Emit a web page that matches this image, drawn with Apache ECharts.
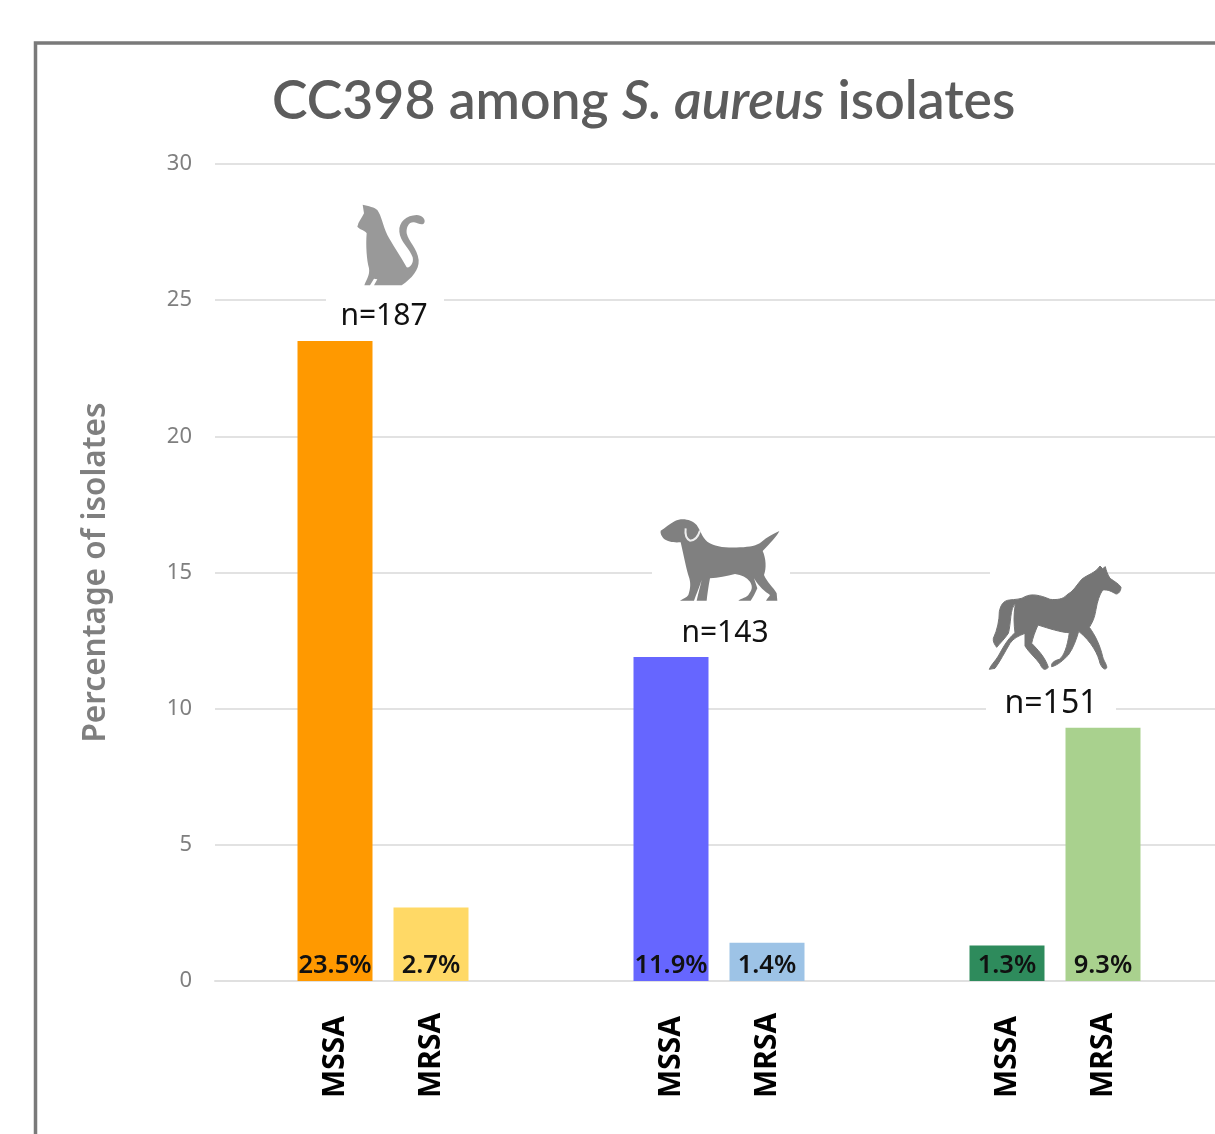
<!DOCTYPE html>
<html>
<head>
<meta charset="utf-8">
<title>CC398 among S. aureus isolates</title>
<script src="https://cdn.jsdelivr.net/npm/echarts@6/dist/echarts.min.js"></script>
<style>
  html, body { margin: 0; padding: 0; background: #fff; overflow: hidden; }
  #chart { width: 1215px; height: 1134px; }
</style>
</head>
<body>
<div id="chart"></div>
<script>
// blank slots are the gaps between the host groups
var categories = ['', '', 'MSSA', '', 'MRSA', '', '', '', '', 'MSSA', '', 'MRSA', '', '', '', '', 'MSSA', '', 'MRSA', '', '']
var percentValues = [null, null, 23.5, null, 2.7, null, null, null, null, 11.9, null, 1.4, null, null, null, null, 1.3, null, 9.3, null, null]
var barColors = [null, null, '#ff9900', null, '#ffd966', null, null, null, null, '#6666ff', null, '#9dc3e6', null, null, null, null, '#2e8b5c', null, '#a9d18e', null, null]
var hostCounts = ['n=187', 'n=143', 'n=151']

var FONT = '"Noto Sans", sans-serif'
var catPath = 'M188 74C205 78 225 82 232 90C245 108 248 135 262 165C275 190 300 225 320 262C330 265 342 250 338 232C330 205 300 185 298 155C296 125 320 106 350 105C365 105 378 118 373 128C368 138 355 130 342 127C328 125 318 140 320 160C325 185 352 205 356 240C358 270 335 295 305 316L222 316L232 298L222 296L210 316L193 316C200 298 210 285 207 265C200 240 197 195 200 160C195 150 180 150 172 140C175 125 185 115 192 100Z'
var dogPath = 'M122 92C135 85 150 70 165 63C185 52 215 58 230 75C242 92 245 110 262 125C285 140 320 145 360 142C390 140 410 138 425 125C440 112 460 102 478 93C470 110 450 130 428 153C438 175 440 205 432 225C440 245 460 262 470 280L472 302L438 302C442 295 448 290 450 285C435 275 418 262 402 235L412 265C405 280 398 295 392 302L355 302C365 295 380 292 385 285C395 270 400 262 390 245C380 232 365 225 345 222C320 228 295 233 270 235C265 260 262 285 260 302L230 302C235 280 240 262 245 240C238 262 228 285 222 302L180 302C190 295 200 293 205 285C212 265 212 250 208 235C198 205 192 170 182 127C165 128 145 128 130 115C125 108 120 100 122 92Z'
var collarPath = 'M197 85C195 100 197 115 210 122C225 122 235 108 240 92'
var horsePath = 'M483 112C482 125 475 132 468 132C455 125 445 118 428 120C418 135 412 155 408 178C405 195 402 210 388 232C405 255 420 285 428 320C432 335 442 345 440 354C435 360 428 358 420 340C415 315 395 275 356 244C350 265 340 295 325 315C310 330 295 345 275 350C272 340 282 332 298 328C312 318 322 290 328 248C305 248 265 235 234 225C225 245 218 265 215 280C232 298 255 320 265 352C255 362 248 360 240 342C228 325 205 305 195 288L195 250C175 258 160 265 150 280C135 305 120 335 105 355L88 358C92 345 105 335 115 318C128 295 140 270 165 248C162 225 160 195 166 163C150 170 153 225 145 250C135 265 120 280 110 292C105 285 98 275 100 265C112 240 118 210 118 185C122 165 130 152 148 150C165 148 185 148 195 140C215 130 240 135 270 148C290 150 310 148 320 135C340 125 350 105 365 88C385 72 405 70 420 48L428 56L436 50C438 60 442 72 450 85C465 95 480 105 483 112Z'

echarts.graphic.registerShape('catIcon', echarts.graphic.extendPath(catPath))
echarts.graphic.registerShape('dogIcon', echarts.graphic.extendPath(dogPath))
echarts.graphic.registerShape('collarIcon', echarts.graphic.extendPath(collarPath))
echarts.graphic.registerShape('horseIcon', echarts.graphic.extendPath(horsePath))

function icon(type, style, x, y, z) {
  return { type: type, x: x, y: y, scaleX: 1 / 3, scaleY: 1 / 3, z: z || 10, style: style }
}

function gap(x, y, w, h) {
  return { type: 'rect', z: 9, shape: { x: x, y: y, width: w, height: h }, style: { fill: '#fff' } }
}

function countText(text, x, y, size) {
  return {
    type: 'text', x: x, y: y, z: 11,
    style: { text: text, fill: '#111', font: size + 'px ' + FONT, align: 'center', verticalAlign: 'middle' }
  }
}

var myChart = echarts.init(document.getElementById('chart'), null, { renderer: 'canvas' })

var titleBase = { fontFamily: '"Lato", sans-serif', fontSize: 53.5, fontWeight: 600, color: '#5c5c5c' }

var option = {
  backgroundColor: '#fff',
  animation: false,
  title: {
    text: '{a|CC398 among }{b|S. aureus}{a| isolates}',
    left: 272,
    top: 75,
    padding: 0,
    textStyle: {
      rich: {
        a: titleBase,
        b: Object.assign({}, titleBase, { fontStyle: 'italic' })
      }
    }
  },
  // the axis carries on past the right edge, as the picture is cropped there
  grid: { left: 215, top: 164, width: 1008, height: 817, outerBoundsMode: 'none' },
  xAxis: {
    type: 'category',
    data: categories,
    axisTick: { show: false },
    axisLine: { lineStyle: { color: '#e0e0e0', width: 2 } },
    axisLabel: {
      interval: 0,
      rotate: 90,
      align: 'left',
      verticalAlign: 'middle',
      margin: 117,
      color: '#000',
      fontFamily: FONT,
      fontSize: 30,
      fontWeight: 700
    }
  },
  yAxis: {
    type: 'value',
    min: 0,
    max: 30,
    interval: 5,
    name: 'Percentage of isolates',
    nameLocation: 'middle',
    nameGap: 103,
    nameRotate: 90,
    nameTextStyle: { color: '#7f7f7f', fontFamily: FONT, fontSize: 31.5, fontWeight: 600 },
    axisLine: { show: false },
    axisTick: { show: false },
    axisLabel: { color: '#7f7f7f', fontFamily: FONT, fontSize: 22, margin: 23 },
    splitLine: { lineStyle: { color: '#e2e2e2', width: 2 } }
  },
  series: [
    {
      type: 'bar',
      barWidth: 75,
      data: percentValues.map(function (v, i) {
        return { value: v, itemStyle: { color: barColors[i] } }
      }),
      label: {
        show: true,
        position: 'insideBottom',
        distance: 2,
        color: '#111',
        fontFamily: FONT,
        fontSize: 25.5,
        fontWeight: 600,
        formatter: function (p) { return p.value == null ? '' : p.value + '%' }
      }
    }
  ],
  graphic: [
    // outer frame, runs off the right and bottom of the picture
    { type: 'rect', z: 8, shape: { x: 35.5, y: 43, width: 1400, height: 1300 }, style: { fill: 'none', stroke: '#7a7a7a', lineWidth: 3.5 } },
    gap(326, 292, 118, 14),
    gap(652, 565, 138, 14),
    gap(990, 565, 115, 14),
    gap(986, 701, 130, 14),
    icon('catIcon', { fill: '#999999' }, 300, 180),
    icon('dogIcon', { fill: '#808080' }, 620, 500),
    icon('collarIcon', { fill: 'none', stroke: '#eeeeee', lineWidth: 6 }, 620, 500, 11),
    icon('horseIcon', { fill: '#757575', stroke: '#757575', lineWidth: 3 }, 960, 550),
    countText(hostCounts[0], 384, 316, 30),
    countText(hostCounts[1], 725, 633, 30),
    countText(hostCounts[2], 1051, 704, 32)
  ]
}

myChart.setOption(option)
</script>
</body>
</html>
